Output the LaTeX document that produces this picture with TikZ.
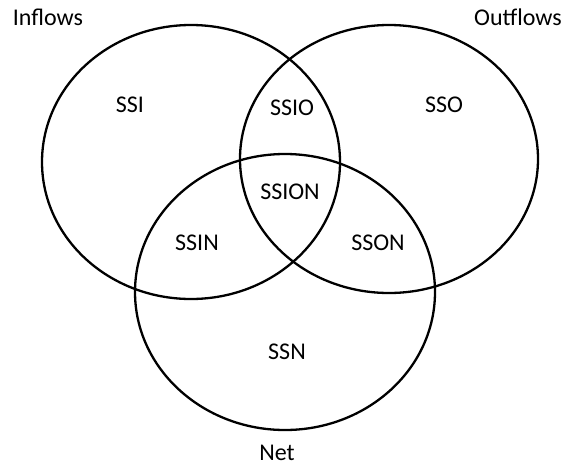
\documentclass[tikz,border=0pt]{standalone}
\usepackage{fontspec}
\setmainfont{Carlito}
\begin{document}
\begin{tikzpicture}[x=1pt, y=-1pt]
\useasboundingbox (0,0) rectangle (564,466);
\tikzset{set/.style={draw=black, line width=2.3pt},
         lbl/.style={font=\fontsize{24}{26}\selectfont, inner sep=0pt}}

% Sets
\draw[set] (191,162) ellipse[x radius=149, y radius=137];
\draw[set] (389,159) ellipse[x radius=149, y radius=134];
\draw[set] (285,292) ellipse[x radius=150, y radius=138];

% Set names
\node[lbl] (inflows) at (48,17) {Inflows};
\node[lbl] (outflows) at (518,17) {Outflows};
\node[lbl] (net) at (277,453) {Net};

% Regions
\node[lbl] (ssi) at (130,105) {SSI};
\node[lbl] (ssio) at (292,108) {SSIO};
\node[lbl] (sso) at (444,105) {SSO};
\node[lbl] (ssion) at (290,192) {SSION};
\node[lbl] (ssin) at (197,243) {SSIN};
\node[lbl] (sson) at (378,243) {SSON};
\node[lbl] (ssn) at (287,352) {SSN};
\end{tikzpicture}
\end{document}
